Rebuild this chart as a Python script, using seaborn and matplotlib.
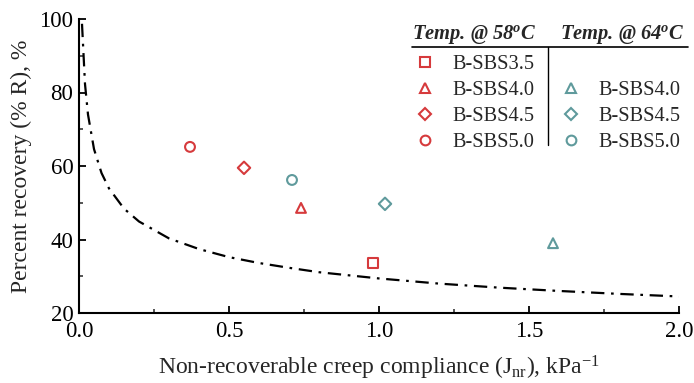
import matplotlib
matplotlib.use("Agg")
import matplotlib.pyplot as plt
import seaborn as sns
import numpy as np
from matplotlib.lines import Line2D
from matplotlib.ticker import MultipleLocator

# ---- data ----
jnr_58 = [0.98, 0.74, 0.55, 0.37]
rec_58 = [33.6, 48.6, 59.5, 65.2]
lab_58 = ["B-SBS3.5", "B-SBS4.0", "B-SBS4.5", "B-SBS5.0"]
mk_58 = ["s", "^", "D", "o"]

jnr_64 = [1.58, 1.02, 0.71]
rec_64 = [39.0, 49.7, 56.2]
lab_64 = ["B-SBS4.0", "B-SBS4.5", "B-SBS5.0"]
mk_64 = ["^", "D", "o"]

curve_jnr = [0.01, 0.02, 0.03, 0.05, 0.075, 0.1, 0.15, 0.2, 0.3, 0.4, 0.5,
             0.6, 0.7, 0.8, 1.0, 1.2, 1.4, 1.6, 1.8, 2.0]
curve_rec = [98.7, 82.3, 74.0, 64.6, 58.1, 53.9, 48.4, 44.9, 40.3, 37.4, 35.2,
             33.6, 32.3, 31.1, 29.4, 28.0, 26.9, 26.0, 25.2, 24.5]

red = "#d63a3c"
teal = "#5f9a9c"

sns.set_theme(style="ticks")
plt.rcParams["font.family"] = ["Liberation Serif", "DejaVu Serif"]
plt.rcParams["mathtext.fontset"] = "custom"
plt.rcParams["mathtext.rm"] = "Liberation Serif"
plt.rcParams["mathtext.it"] = "Liberation Serif:italic:bold"
plt.rcParams["mathtext.bf"] = "Liberation Serif:bold"

fig = plt.figure(figsize=(6.94, 3.83), dpi=100)
ax = fig.add_axes([79 / 694, 1 - 313 / 383, 600 / 694, 294 / 383])

sns.lineplot(x=curve_jnr, y=curve_rec, ax=ax, color="black", linestyle=(0, (6, 3, 1.2, 3)),
             linewidth=1.6, sort=False)

handles58 = []
for x, y, l, m in zip(jnr_58, rec_58, lab_58, mk_58):
    sz = 40 if m == "D" else 50
    sns.scatterplot(x=[x], y=[y], ax=ax, marker=m, s=sz, facecolor="none",
                    edgecolor=red, linewidth=1.5, zorder=3)
    handles58.append(Line2D([], [], marker=m, linestyle="none", markerfacecolor="none",
                            markeredgecolor=red, markeredgewidth=1.5,
                            markersize=6.5 if m == "D" else 7, label=l))
handles64 = [Line2D([], [], linestyle="none", label=" ")]
for x, y, l, m in zip(jnr_64, rec_64, lab_64, mk_64):
    sz = 40 if m == "D" else 50
    sns.scatterplot(x=[x], y=[y], ax=ax, marker=m, s=sz, facecolor="none",
                    edgecolor=teal, linewidth=1.5, zorder=3)
    handles64.append(Line2D([], [], marker=m, linestyle="none", markerfacecolor="none",
                            markeredgecolor=teal, markeredgewidth=1.5,
                            markersize=6.5 if m == "D" else 7, label=l))

ax.set_xlim(0, 2.0)
ax.set_ylim(20, 100)
ax.xaxis.set_major_locator(MultipleLocator(0.5))
ax.xaxis.set_minor_locator(MultipleLocator(0.25))
ax.yaxis.set_major_locator(MultipleLocator(20))
ax.yaxis.set_minor_locator(MultipleLocator(10))
ax.set_xticks([0, 0.5, 1.0, 1.5, 2.0])
ax.set_xticklabels(["0.0", "0.5", "1.0", "1.5", "2.0"])
ax.tick_params(axis="both", which="major", direction="in", length=5, width=1.3,
               labelsize=16.5, colors="black")
ax.tick_params(axis="y", which="major", pad=4)
ax.tick_params(axis="x", which="major", pad=6)
ax.tick_params(axis="both", which="minor", direction="in", length=3, width=1.1)
for s in ["left", "bottom"]:
    ax.spines[s].set_linewidth(1.5)
    ax.spines[s].set_color("black")
sns.despine(ax=ax)

ax.set_xlabel(r"Non-recoverable creep compliance (J$_{\mathrm{nr}}$), kPa$^{\mathrm{-1}}$",
              fontsize=17, labelpad=8)
ax.set_ylabel("Percent recovery (% R), %", fontsize=17, labelpad=5)

leg = ax.legend(handles=handles58 + handles64, ncol=2, loc="upper left",
                bbox_to_anchor=(0.543, 0.905), frameon=False, fontsize=14.7,
                handletextpad=0.75, columnspacing=1.15, labelspacing=0.32,
                handlelength=1.2, borderaxespad=0)

# headers
ax.text(0.555, 0.946, r"Temp. @ 58$^{o}$C", transform=ax.transAxes, fontsize=14.8,
        fontweight="bold", fontstyle="italic", ha="left", va="center")
ax.text(0.802, 0.946, r"Temp. @ 64$^{o}$C", transform=ax.transAxes, fontsize=14.8,
        fontweight="bold", fontstyle="italic", ha="left", va="center")
ax.add_line(Line2D([0.555, 1.015], [0.905, 0.905], transform=ax.transAxes,
                   color="black", linewidth=1.2, clip_on=False))
ax.add_line(Line2D([0.782, 0.782], [0.905, 0.571], transform=ax.transAxes,
                   color="black", linewidth=1.0, clip_on=False))

fig.savefig("out.png", dpi=100)
